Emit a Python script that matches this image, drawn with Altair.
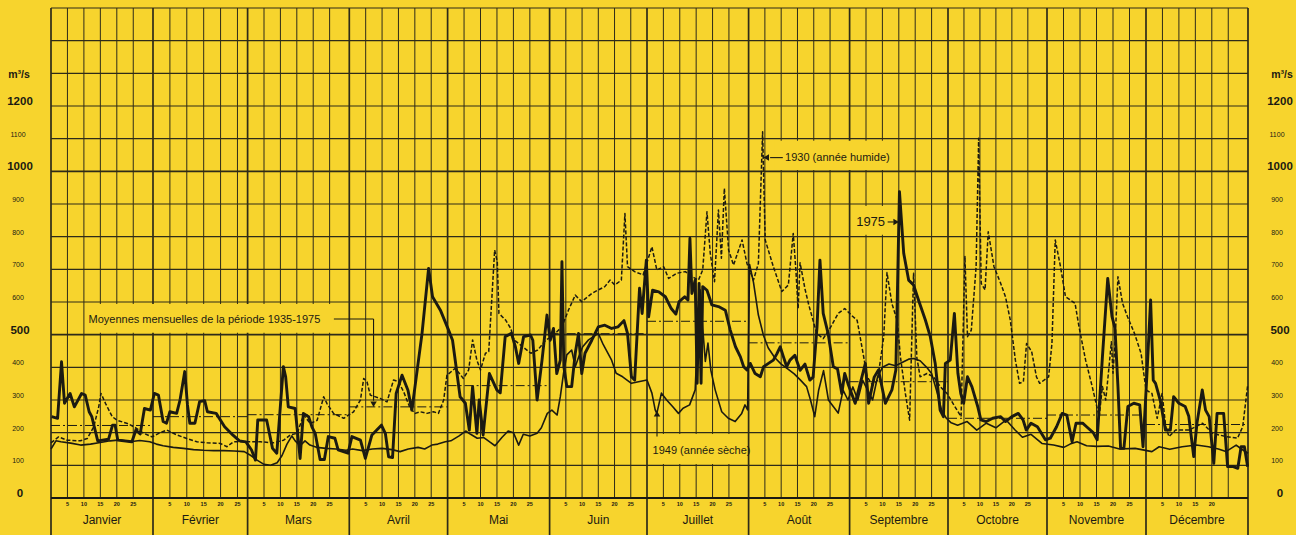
import altair as alt
import pandas as pd

# ---------------------------------------------------------------- calendar
MONTHS = ["Janvier", "Février", "Mars", "Avril", "Mai", "Juin", "Juillet",
          "Août", "Septembre", "Octobre", "Novembre", "Décembre"]
MONTH_START = [0, 31, 59, 90, 120, 151, 181, 212, 243, 273, 304, 334]
YEAR_END = 365
MONTH_EDGES = MONTH_START + [YEAR_END]
# printed width of each month column on the sheet (px); the grid is not quite uniform
MONTH_SPAN_PX = [102, 94.6, 101.7, 98.3, 102, 97.4, 101.6, 101, 98.4, 99, 99, 102]
DAY_TICKS = [5, 10, 15, 20, 25]

# ---------------------------------------------------------------- discharge scale (m3/s)
Y_TICKS = list(range(0, 1300, 100))
Y_BOLD = [0, 500, 1000, 1200]
Y_GRID = list(range(0, 1600, 100))

# ---------------------------------------------------------------- daily discharge, 1975 (thick line)
Q1975_DAY = [0.2, 2.0, 3.2, 4.1, 5.8, 7.1, 9.3, 10.4, 11.6, 12.4, 14.2, 17.5, 18.7, 19.5, 20.3, 24.6, 25.8, 27.1, 28.4, 30.2,
             31.4, 32.6, 34, 35, 36, 38, 39, 40.4, 41.2, 41.9, 43.4, 44.8, 46.3, 47.1, 49.7, 52.2, 54.6, 56.6, 58.5,
             60.2, 61.4, 62.1, 64.8, 66.6, 67.9, 69.9, 70.6, 71.4, 73.5, 75, 76, 77.6, 78.6, 79.6, 81.1, 82.4, 83.6, 85.6, 86.6, 89.6,
             90.8, 93.4, 94.9, 96.9, 99.8, 101, 102, 103.2, 104.3, 106.1, 107.9, 109.1, 112.2, 114.2, 115.4, 117.8, 120.3,
             121.5, 123.8, 125.4, 126.6, 127.6, 128.9, 129.6, 130.8, 132.7, 135, 136, 137.5, 139.4, 140.6, 141.6, 143.1, 145.2, 145.9, 147.2, 148.7, 150.2,
             151.2, 152.2, 153.2, 154.3, 154.8, 155.4, 156.3, 157.8, 158.9, 159.9, 160.9, 161.9, 164, 166, 168, 170.1, 172.1, 173.9, 175, 176.2, 177.2, 178.7, 179.5, 180.8,
             181.5, 182.7, 184.6, 186.6, 188.4, 189.8, 190.8, 192.5, 193.5, 194.1, 194.7, 195.7, 196.3, 196.9, 197.5, 198, 199.3, 200.8, 202.8, 204.9, 206.4, 208, 209.5, 210.5, 211.5,
             212.5, 214, 215.6, 216.6, 218.1, 219.6, 220.7, 221.7, 222.7, 223.7, 224.7, 226.2, 227.8, 229.3, 230.8, 231.8, 233, 233.9, 234.9, 236.4, 238, 239.3, 240.6, 241.5, 242.5,
             244.7, 246.8, 247.8, 248.8, 250.5, 251.8, 253.9, 255.9, 257.1, 258.2, 259.5, 261, 262.5, 264, 266.1, 267.6, 269.1, 270.6, 271.6,
             272.2, 273.7, 275, 276.1, 277, 277.9, 279.1, 280.5, 282.3, 283.3, 285, 287, 289.5, 291, 293, 295, 296.5, 297.5, 299, 301, 303.5,
             305, 306.9, 308.6, 310, 311.6, 312.8, 314.8, 316, 318, 319.2, 320.8, 322.4, 323.7, 324.6, 325.5, 326.3, 327.3, 328.5, 330.3, 332.1, 333.1,
             334.3, 335.4, 336.2, 336.9, 338.3, 339.9, 341.4, 342.4, 344, 345.9, 347, 348.5, 349.5, 351.1, 352.1, 353.2, 354.6, 355.6, 357.6, 358.8, 360.5, 361.9, 362.9, 363.9, 364.9]
Q1975 = [249, 244, 417, 290, 320, 279, 320, 315, 264, 249, 175, 180, 223, 223, 177, 172, 208, 196, 274, 269,
         320, 315, 234, 229, 264, 259, 300, 387, 285, 229, 229, 295, 298, 264, 259, 218, 193, 175, 172,
         147, 116, 239, 239, 152, 137, 402, 371, 279, 274, 121, 259, 249, 218, 198, 118, 118, 188, 183, 147, 137,
         188, 177, 121, 193, 223, 198, 126, 124, 320, 376, 330, 269, 504, 703, 616, 575, 514,
         483, 310, 290, 208, 341, 198, 300, 193, 381, 330, 322, 494, 504, 463, 412, 494, 499, 483, 300, 422, 560,
         483, 519, 381, 422, 723, 402, 341, 341, 443, 504, 381, 443, 483, 524, 529, 519, 524, 543, 504, 371, 361, 642, 565, 728,
         555, 636, 631, 616, 580, 563, 601, 616, 606, 795, 626, 667, 351, 657, 351, 647, 636, 591, 586, 575, 514, 463, 432, 402, 392,
         412, 381, 371, 402, 412, 422, 442, 463, 432, 402, 422, 437, 391, 410, 361, 370, 524, 728, 565, 504, 402, 395, 320, 381, 350,
         290, 372, 412, 290, 370, 392, 290, 331, 392, 938, 749, 667, 652, 606, 545, 494, 412, 269, 249,
         412, 422, 565, 382, 320, 290, 371, 340, 280, 239, 234, 244, 249, 234, 249, 259, 239, 208, 229, 218, 178,
         183, 218, 259, 254, 172, 229, 229, 218, 200, 178, 433, 672, 555, 520, 341, 152, 152, 280, 290, 285, 157,
         382, 606, 361, 351, 300, 208, 208, 310, 290, 280, 250, 127, 230, 331, 269, 249, 106, 259, 259, 96, 96, 91, 157, 157, 96]

# ---------------------------------------------------------------- daily discharge, 1949 (thin line, dry year)
Q1949_DAY = [0, 1.5, 3, 6, 9, 12, 15, 18, 21, 24, 27, 30,
             32, 34, 37, 40, 43, 46, 49, 52, 55, 58,
             60, 62, 64, 66, 68, 69.5, 71, 72.5, 73.5, 75, 76.5, 78, 80, 83, 86, 89,
             91, 94, 97, 100, 103, 105.5, 108, 111, 113, 115.2, 117, 119.3,
             121, 123.5, 125.5, 127, 129, 131, 133, 134.4, 136.5, 138.4, 140, 141.6, 143, 145, 147.2, 148.5, 150.3,
             151.7, 153.3, 154.3, 155.3, 156.3, 157.8, 158.9, 160, 161.2, 163, 166, 167.5, 170.1, 171.5, 173.5, 176.2, 178, 181,
             182.5, 183.5, 184, 185.4, 187, 188.8, 190.6, 192, 194, 195.7, 196.4, 197.2, 198, 198.8, 199.6, 200.5, 201.8, 203.8, 205.8, 207.9, 209.9, 210.9, 211.7,
             212.3, 213.5, 215, 216.5, 218, 220, 222, 224, 226, 228, 229.8, 231, 232.3, 233.5, 235, 236.5, 238, 239.5, 241, 242.5,
             244, 245.5, 247, 248.5, 250, 251.5, 253, 255, 257, 259, 261, 262.5, 264.5, 266.5, 268, 269.5, 271, 272.5,
             274, 276, 279, 282, 285, 288, 291.2, 294, 296.3, 299, 302.4,
             306, 309.1, 311, 313.1, 316, 319, 322.6, 326, 330.7,
             335.8, 338, 341.2, 345, 349.3, 353, 356, 358.3, 361.4, 363, 365]
Q1949 = [150, 175, 172, 168, 162, 165, 170, 175, 178, 172, 176, 172,
         165, 160, 155, 152, 148, 146, 145, 145, 144, 142,
         130, 115, 103, 100, 108, 130, 165, 190, 175, 160, 175, 162, 155, 152, 150, 146,
         150, 145, 150, 152, 148, 142, 150, 155, 150, 162, 165, 172,
         175, 190, 205, 195, 183, 185, 170, 160, 185, 205, 200, 162, 195, 190, 198, 215, 259,
         269, 254, 310, 382, 438, 453, 402, 433, 463, 484, 504, 470, 422, 382, 371, 351, 355, 361,
         321, 270, 259, 321, 300, 280, 259, 275, 285, 331, 494, 637, 520, 418, 474, 390, 331, 264, 244, 234, 259, 285, 270,
         715, 660, 560, 500, 460, 430, 410, 395, 380, 360, 341, 300, 249, 330, 390, 300, 280, 260, 330, 300,
         340, 300, 360, 330, 300, 370, 400, 410, 405, 415, 425, 427, 420, 400, 381, 330, 270, 244,
         230, 223, 234, 208, 229, 215, 239, 208, 186, 195, 167,
         162, 155, 165, 172, 160, 158, 159, 150, 152,
         142, 157, 149, 157, 162, 157, 150, 142, 162, 150, 137]

# ---------------------------------------------------------------- daily discharge, 1930 (dashed line, wet year)
Q1930_DAY = [0, 2.3, 4.9, 8.9, 11, 13, 14.5, 15.2, 16.6, 18.6, 20.1, 23.2, 25.2, 28.2, 30.7,
             32.7, 35.1, 38.1, 41, 44, 47, 50.9, 52.9, 54.8, 58.8,
             62.9, 66.9, 70, 72, 74.1, 76.1, 78.1, 80.2, 82.2, 83.2, 85.2, 88.3,
             91.3, 93.4, 94.4, 95.4, 96.4, 99.4, 101.5, 103.5, 105, 106.6, 108.6, 110.1, 111.6, 113.7, 115.7, 117.2, 118.8, 119.8,
             122.3, 124.8, 126.4, 127.6, 128.9, 130, 131.5, 132.5, 134.3, 135.1, 135.6, 137.6, 139.2, 140.2, 142.8, 145.3, 147.4, 149.9,
             151.7, 154.8, 156.8, 158.9, 160.9, 164, 166, 168, 169.6, 171.1, 173.1, 174.2, 175, 177.2, 179.8,
             182.5, 184, 186.1, 187.6, 190.1, 192.7, 194.7, 196.7, 198, 199.3, 200.3, 201.6, 202.8, 203.7, 204.6, 205.9, 207.4, 210, 211.5,
             213.5, 215, 216.3, 217.1, 219.6, 222.2, 224.2, 225.7, 226.5, 227.2, 227.8, 229.3, 230.5, 232.9, 234.9, 237, 239.5, 241.5,
             243.5, 245.3, 247.3, 248.3, 250, 251.5, 252.4, 253.4, 254.4, 255.9, 257.5, 258.5, 260, 261.3, 262.5, 263.5, 264.5, 266.6, 268.6, 270.7, 272.7,
             275.2, 277.1, 278.3, 279.1, 280.3, 281.8, 282.6, 283.4, 284.6, 285.6, 287.4, 289.5, 291, 292.5, 294.1, 295.4, 296.6, 297.6, 299.2, 300.7, 301.7,
             304.5, 305.5, 306.5, 308.1, 309.6, 311.1, 312.5, 313.7, 315.7, 317.7, 319.8, 320.8, 321.8, 322.8, 323.5, 324, 324.6, 325.5, 326.9, 328.4, 330.5, 332.5,
             334, 335.8, 337.4, 338.9, 340, 341, 343, 347.1, 351.2, 354.2, 358.3, 361.8, 363.4, 364.9]
Q1930 = [169, 187, 177, 175, 182, 218, 279, 320, 289, 249, 238, 228, 218, 198, 187,
         198, 208, 193, 182, 172, 169, 167, 157, 172, 172,
         172, 169, 177, 193, 198, 254, 228, 238, 310, 289, 259, 244,
         264, 300, 366, 356, 315, 305, 294, 361, 356, 325, 274, 259, 264, 259, 264, 259, 300, 376,
         397, 366, 392, 484, 422, 392, 443, 448, 759, 723, 565, 545, 519, 484, 463, 443, 453, 484,
         494, 524, 575, 621, 601, 626, 637, 647, 667, 652, 667, 871, 708, 693, 683,
         769, 698, 708, 672, 688, 693, 678, 667, 698, 876, 749, 662, 882, 734, 948, 759, 713, 790, 718,
         667, 718, 1121, 790, 708, 632, 652, 810, 700, 580, 720, 640, 590, 504, 488, 520, 565, 580,
         560, 544, 432, 372, 345, 360, 422, 493, 690, 595, 544, 432, 320, 238, 688, 430, 371, 381, 371, 340, 320,
         279, 249, 739, 494, 514, 708, 1101, 657, 637, 815, 708, 657, 616, 545, 422, 351, 356, 473, 448, 371, 351,
         371, 473, 790, 708, 616, 606, 596, 524, 422, 341, 249, 341, 300, 402, 478, 382, 473, 677, 596, 555, 504, 443,
         331, 320, 244, 320, 218, 188, 208, 208, 229, 198, 188, 183, 218, 345]

# ---------------------------------------------------------------- monthly means 1935-1975
MEAN_1935_1975 = [222, 249, 255, 279, 344, 503, 541, 475, 356, 244, 254, 225]

# ---------------------------------------------------------------- annotations
NOTE_MEANS = "Moyennes mensuelles de la période 1935-1975"
NOTE_WET = "1930 (année humide)"
NOTE_DRY = "1949 (année sèche)"
NOTE_1975 = "1975"

# ---------------------------------------------------------------- styling
W, H = 1197, 490
BG = "#F7D42D"
INK = "#1b1a12"
GRID = "#2e2b19"
FONT = "Liberation Sans"

edges_px = [0.0]
for span in MONTH_SPAN_PX:
    edges_px.append(edges_px[-1] + span)
edges_px[-1] = W

xs = alt.Scale(domain=MONTH_EDGES, range=edges_px, nice=False, zero=False)
ys = alt.Scale(domain=[0, 1500], nice=False, zero=False)


def X(field):
    return alt.X(field, type="quantitative", scale=xs, axis=None)


def Y(field):
    return alt.Y(field, type="quantitative", scale=ys, axis=None)


# ---- grid
h_df = pd.DataFrame({"v": Y_GRID, "w": [1.6 if v in (500, 1000) else 1.15 for v in Y_GRID]})
hgrid = alt.Chart(h_df).mark_rule(color=GRID).encode(
    y=Y("v"), x=alt.value(0), x2=alt.value(W),
    strokeWidth=alt.StrokeWidth("w:Q", scale=None))

minor_days = [s + d for s in MONTH_START for d in DAY_TICKS]
vminor = alt.Chart(pd.DataFrame({"d": minor_days})).mark_rule(
    color=GRID, strokeWidth=1.0).encode(x=X("d"), y=alt.value(0), y2=alt.value(H))

vmonth = alt.Chart(pd.DataFrame({"d": MONTH_EDGES})).mark_rule(
    color=GRID, strokeWidth=1.7).encode(x=X("d"), y=alt.value(0), y2=alt.value(H + 37))

baseline = alt.Chart(pd.DataFrame({"v": [0]})).mark_rule(
    color=INK, strokeWidth=2.2).encode(y=Y("v"), x=alt.value(0), x2=alt.value(W))

# ---- paper patches behind the lettering
boxes = pd.DataFrame({
    "d0": [10.8, 219.8, 243.8, 181.5],
    "d1": [85.2, 255.8, 254.8, 211.4],
    "v0": [506, 1004, 806, 104],
    "v1": [594, 1094, 894, 196],
})
patches = alt.Chart(boxes).mark_rect(fill=BG).encode(
    x=X("d0"), x2="d1", y=Y("v0"), y2="v1")

# ---- monthly means
mean_df = pd.DataFrame({"d0": MONTH_START, "d1": MONTH_EDGES[1:], "v": MEAN_1935_1975})
means = alt.Chart(mean_df).mark_rule(
    color=INK, strokeWidth=1.0, strokeDash=[9, 3, 2, 3]).encode(x=X("d0"), x2="d1", y=Y("v"))

# ---- daily series
def series(days, vals, **style):
    df = pd.DataFrame({"d": days, "q": vals})
    return alt.Chart(df).mark_line(color=INK, strokeJoin="round", **style).encode(
        x=X("d"), y=Y("q"))


line1949 = series(Q1949_DAY, Q1949, strokeWidth=1.6)
line1930 = series(Q1930_DAY, Q1930, strokeWidth=1.5, strokeDash=[4, 2])
line1975 = series(Q1975_DAY, Q1975, strokeWidth=2.9)

# ---- annotations
text_df = pd.DataFrame({
    "d": [11.4, 223.2, 182.7],
    "v": [545, 1042, 144],
    "t": [NOTE_MEANS, NOTE_WET, NOTE_DRY],
})
notes = alt.Chart(text_df).mark_text(
    align="left", baseline="middle", font=FONT, fontSize=11, color=INK).encode(
    x=X("d"), y=Y("v"), text="t:N")
note75 = alt.Chart(pd.DataFrame({"d": [245.0], "v": [845], "t": [NOTE_1975]})).mark_text(
    align="left", baseline="middle", font=FONT, fontSize=13, color=INK).encode(
    x=X("d"), y=Y("v"), text="t:N")

leaders = pd.DataFrame({
    "d0": [85.3, 97.4, 218.6, 254.6, 184.05],
    "d1": [97.4, 97.4, 222.5, 256.4, 184.05],
    "v0": [548, 548, 1042, 845, 188],
    "v1": [548, 298, 1042, 845, 252],
})
leader_rules = alt.Chart(leaders).mark_rule(color=INK, strokeWidth=1.1).encode(
    x=X("d0"), x2="d1", y=Y("v0"), y2="v1")

heads = pd.DataFrame({
    "d": [97.4, 217.4, 257.2, 184.05],
    "v": [287, 1042, 845, 258],
    "s": ["triangle-down", "triangle-left", "triangle-right", "triangle-up"],
})
arrow_heads = alt.Chart(heads).mark_point(filled=True, color=INK, opacity=1, size=42).encode(
    x=X("d"), y=Y("v"),
    shape=alt.Shape("s:N", scale=None))

# ---- value labels on both sides
ylab = pd.DataFrame({"v": Y_TICKS, "t": [str(v) for v in Y_TICKS]})
big = ylab[ylab["v"].isin(Y_BOLD)]
small = ylab[~ylab["v"].isin(Y_BOLD)]


def side_labels(df, xpix, size, weight):
    return alt.Chart(df).mark_text(
        align="center", baseline="middle", dy=-4, font=FONT, fontSize=size,
        fontWeight=weight, color=INK).encode(y=Y("v"), x=alt.value(xpix), text="t:N")


unit_df = pd.DataFrame({"v": [1284], "t": ["m³/s"]})
ylabels = [
    side_labels(big, -31, 11.5, "bold"), side_labels(small, -33, 7, "normal"),
    side_labels(big, 1229, 11.5, "bold"), side_labels(small, 1226, 7, "normal"),
    side_labels(unit_df, -32, 10.5, "bold"), side_labels(unit_df, 1231, 10.5, "bold"),
]

# ---- calendar labels under the grid
tick_rows = []
for m, s in enumerate(MONTH_START):
    for d in DAY_TICKS:
        if m == 11 and d == 25:
            continue
        tick_rows.append({"d": s + d, "t": str(d)})
day_labels = alt.Chart(pd.DataFrame(tick_rows)).mark_text(
    align="center", baseline="middle", font=FONT, fontSize=5.5, fontWeight="bold", color=INK).encode(
    x=X("d"), y=alt.value(H + 6), text="t:N")

month_df = pd.DataFrame({
    "d": [(a + b) / 2 for a, b in zip(MONTH_EDGES[:-1], MONTH_EDGES[1:])],
    "t": MONTHS,
})
month_labels = alt.Chart(month_df).mark_text(
    align="center", baseline="middle", font=FONT, fontSize=12, color=INK).encode(
    x=X("d"), y=alt.value(H + 22), text="t:N")

chart = alt.layer(
    hgrid, vminor, vmonth, baseline, patches, means,
    line1949, line1930, line1975,
    leader_rules, arrow_heads, notes, note75,
    *ylabels, day_labels, month_labels,
).properties(
    width=W, height=H,
    padding={"left": 51, "top": 8, "right": 48, "bottom": 37},
    autosize=alt.AutoSizeParams(type="none"),
    background=BG,
).configure_view(stroke=None)

chart.save("out.html", embed_options={"renderer": "svg", "actions": False})
